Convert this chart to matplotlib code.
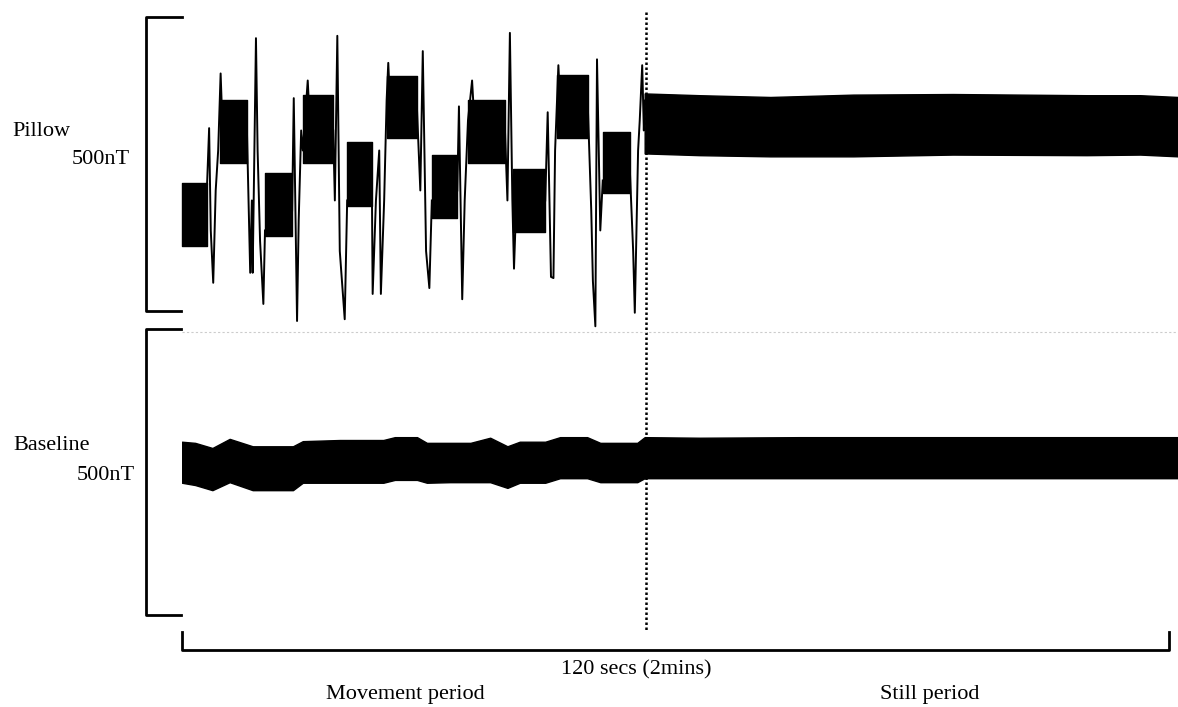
import matplotlib.pyplot as plt

plt.rcParams['font.family'] = ['Liberation Serif', 'DejaVu Serif']

# ---- Pillow trace (time in s, field in nT) ----
# plateau blocks of the movement period
seg_start = [0.0, 4.6, 10.1, 14.7, 20.1, 24.9, 30.4, 34.8, 40.3, 45.6, 51.2]
seg_end = [3.0, 7.9, 13.4, 18.4, 23.1, 28.6, 33.5, 39.3, 44.2, 49.4, 54.5]
seg_hi = [218, 358, 235, 367, 287, 399, 265, 358, 242, 401, 304]
seg_lo = [111, 251, 128, 251, 179, 294, 159, 251, 135, 295, 200]

# spikes between plateaus (one list per transition)
trans_t = [
    [2.8, 3.3, 3.5, 3.8, 4.1, 4.4, 4.7, 4.9],
    [7.9, 8.3, 8.5, 8.6, 9.0, 9.2, 9.5, 9.9, 10.1],
    [13.4, 13.6, 14.0, 14.2, 14.5, 14.7, 15.3, 15.6],
    [18.4, 18.6, 18.9, 19.2, 19.8, 20.1],
    [23.1, 23.2, 23.6, 24.0, 24.2, 24.6, 24.9, 25.1, 25.3],
    [28.6, 29.0, 29.3, 29.7, 30.1, 30.4],
    [33.5, 33.7, 34.1, 34.4, 34.8, 35.3, 35.5],
    [39.3, 39.6, 39.9, 40.2, 40.4, 40.6],
    [44.2, 44.5, 44.9, 45.2, 45.4, 45.8, 46.0],
    [49.4, 49.8, 50.0, 50.3, 50.5, 50.9, 51.2],
    [54.5, 54.9, 55.1, 55.5, 55.7, 56.0, 56.2, 56.3],
]
trans_v = [
    [119, 311, 137, 48, 205, 273, 404, 324],
    [307, 65, 188, 65, 464, 273, 119, 12, 137],
    [171, 362, -17, 154, 307, 273, 392, 307],
    [307, 188, 468, 102, -14, 188],
    [222, 29, 188, 273, 29, 188, 358, 422, 358],
    [341, 205, 442, 102, 39, 188],
    [205, 348, 20, 188, 324, 392, 341],
    [307, 188, 473, 188, 72, 154],
    [188, 338, 58, 56, 273, 418, 358],
    [341, 171, 51, -26, 428, 137, 222],
    [239, 102, -3, 273, 324, 418, 307, 358],
]

# still period envelope
still_t = [56.3, 63.0, 71.6, 81.7, 93.8, 110.1, 116.6, 121.2]
still_hi = [370, 367, 364, 368, 369, 367, 367, 364]
still_lo = [268, 265, 263, 263, 266, 265, 266, 263]

# ---- Baseline trace envelope ----
base_t = [0.0, 1.6, 3.7, 5.8, 8.6, 11.3, 13.5, 14.7, 19.2, 24.5, 25.9, 28.6, 29.8,
          32.6, 35.1, 37.5, 39.6, 41.1, 44.2, 46.0, 49.3, 50.9, 53.3, 55.4, 56.3,
          63.0, 75.2, 87.4, 99.6, 111.7, 121.2]
base_hi = [304, 302, 293, 309, 296, 296, 296, 305, 307, 307, 312, 312, 302, 302, 302,
           311, 296, 304, 304, 312, 312, 302, 302, 302, 312, 311, 312, 312, 312, 312, 312]
base_lo = [232, 228, 219, 233, 219, 219, 219, 232, 232, 232, 237, 237, 232, 233, 233,
           233, 223, 232, 232, 240, 240, 233, 233, 233, 240, 240, 240, 240, 240, 240, 240]

W, H = 1178, 707
fig = plt.figure(figsize=(W / 100, H / 100), dpi=100)

# top panel (Pillow)
ax1 = fig.add_axes([182 / W, 1 - 311 / H, 1 - 182 / W, 294 / H])
for s, e, hi, lo in zip(seg_start, seg_end, seg_hi, seg_lo):
    ax1.fill_between([s, e], [hi, hi], [lo, lo], color='black', lw=1, clip_on=False)
for t, v in zip(trans_t, trans_v):
    ax1.plot(t, v, color='black', lw=1.4, clip_on=False)
ax1.fill_between(still_t, still_hi, still_lo, color='black', lw=1, clip_on=False)
ax1.set_xlim(0, 121.2)
ax1.set_ylim(0, 500)
ax1.axis('off')

# bottom panel (Baseline)
ax2 = fig.add_axes([182 / W, 1 - 615 / H, 1 - 182 / W, 285 / H])
ax2.fill_between(base_t, base_hi, base_lo, color='black', lw=1)
ax2.set_xlim(0, 121.2)
ax2.set_ylim(0, 500)
ax2.axis('off')

# overlay for brackets and labels (pixel coordinates)
ov = fig.add_axes([0, 0, 1, 1], zorder=-1)
ov.set_xlim(0, W)
ov.set_ylim(H, 0)
ov.axis('off')

ov.plot([182, 146, 146, 181], [17, 17, 311, 311], color='black', lw=2)
ov.plot([181, 146, 146, 181], [329, 329, 615, 615], color='black', lw=2)
ov.plot([182, 182, 1169, 1169], [632, 650, 650, 632], color='black', lw=2)
ov.plot([646, 646], [12, 630], color='black', lw=1.8, linestyle=(0, (1, 1)))
ov.plot([182, 1178], [332, 332], color='#cccccc', lw=0.8, linestyle=(0, (2, 2)))

fs = 16
ov.text(12, 136, 'Pillow', fontsize=fs, va='baseline', ha='left')
ov.text(72, 164, '500nT', fontsize=fs, va='baseline', ha='left')
ov.text(13, 450, 'Baseline', fontsize=fs, va='baseline', ha='left')
ov.text(77, 480, '500nT', fontsize=fs, va='baseline', ha='left')
ov.text(636, 674, '120 secs (2mins)', fontsize=fs, va='baseline', ha='center')
ov.text(405, 699, 'Movement period', fontsize=fs, va='baseline', ha='center')
ov.text(930, 699, 'Still period', fontsize=fs, va='baseline', ha='center')

plt.savefig('out.png', dpi=100)
